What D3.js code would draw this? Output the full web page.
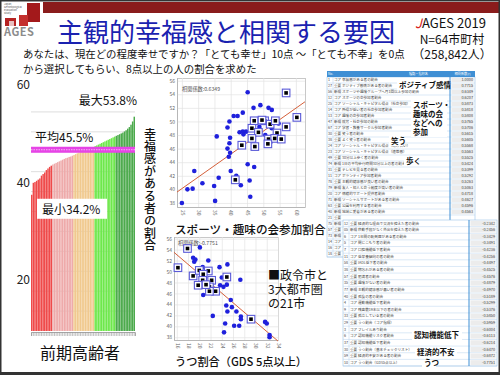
<!DOCTYPE html>
<html><head><meta charset="utf-8">
<script src="https://cdn.jsdelivr.net/npm/d3@7"></script>
<style>
body{margin:0;background:#fff}
text{font-family:"Noto Sans CJK JP","Noto Sans",sans-serif}
</style>
</head><body><script>
// ---- data ----
const title = "主観的幸福感と相関する要因";
const subtitle = ["あなたは、現在どの程度幸せですか？「とても幸せ」10点 ～「とても不幸」を0点",
                  "から選択してもらい、8点以上の人の割合を求めた"];
const sourceLines = ["N=64市町村", "（258,842人）"];

// 64 municipalities, sorted, % of happy people (前期高齢者)
const barValues = [
  34.2, 37.2, 37.4, 37.7, 38.0, 38.3, 39.0, 39.4, 39.8, 40.4, 40.8, 41.2, 41.5,
  41.8, 42.0, 42.2, 42.4, 42.6, 42.8, 43.0, 43.2, 43.4, 43.5, 43.7, 43.8, 44.0,
  44.2, 44.4, 44.6, 44.8, 45.0, 45.2, 45.4, 45.6, 45.8, 45.9, 46.0, 46.1, 46.2,
  46.4, 46.6, 46.8, 47.0, 47.2, 47.4, 47.6, 47.8, 48.0, 48.2, 48.4, 48.6, 48.8,
  49.0, 49.2, 49.4, 49.6, 49.8, 50.1, 50.4, 50.8, 51.2, 51.8, 52.6, 53.8];
const groupSizes = [13, 13, 13, 13, 12];
const groupColors = ["#ef4a4a", "#eeaaaa", "#f0c98e", "#6ee84c", "#4caa4c"];
const meanValue = 45.5, minValue = 34.2, maxValue = 53.8;
const barTickLabels = [20, 40, 60];
const barGrid = [5, 10, 15, 20, 25, 30, 35, 40, 45, 50, 55];

// scatter 1: sport / hobby participation vs happiness
const sportDots = [[25,38.0],[26.7,40.0],[28.3,40.1],[28.8,42.7],[31.3,40.9],[34.9,40.5],[35.2,38.3],
  [36.3,41.7],[35.7,47.8],[39.0,49.1],[39.6,50.0],[40.9,50.8],[42.1,50.8],[43.7,51.3],[45.2,54.3],
  [39.8,47.6],[39.6,46.8],[39.0,46.0],[39.8,45.4],[39.4,44.8],[40.0,42.7],[41.7,42.0],[42.7,48.4],
  [43.7,48.5],[44.7,48.5],[43.9,48.1],[45.2,43.7],[47.2,43.3],[45.8,41.3],[46.0,38.9],[43.1,40.6],
  [47.0,52.0],[49.1,52.4],[51.6,52.0],[52.6,51.7],[48.8,49.2],[50.6,48.0],[52.6,49.0],[54.7,49.7]];
const sportSquares = [[57.0,54.2],[60.3,50.6],[57.0,49.2],[47.2,50.1],[50.4,50.1],[52.1,49.6],
  [53.7,50.1],[46.5,49.0],[48.5,48.4],[54.2,48.3],[51.6,47.4],[46.5,47.5],[53.5,47.5],[55.5,47.4],
  [51.4,46.7],[43.4,46.5],[47.4,46.3],[41.4,41.4],[49.6,50.2]];
const sportFit = [[23.5, 39.6], [62.8, 52.9]];
const sportXTicks = [25, 30, 35, 40, 45, 50, 55, 60];
const sportYTicks = [38, 40, 42, 44, 46, 48, 50, 52, 54, 56];

// scatter 2: depression (GDS>=5) vs happiness
const depDots = [[20.1,54.4],[19.1,51.8],[18.9,52.5],[19.3,52.2],[20.6,50.8],[21.6,52.0],[23.6,50.8],
  [25.0,51.3],[27.3,48.5],[24.0,48.9],[24.9,47.6],[23.7,47.5],[24.3,47.2],[20.7,45.7],[25.6,44.8],
  [24.8,43.8],[25.8,43.5],[25.0,42.7],[26.6,42.7],[22.4,41.9],[27.4,41.8],[27.4,41.3],[24.6,40.5],
  [26.2,40.1],[27.1,40.1],[24.4,38.9],[31.7,40.8],[32.0,40.5],[32.5,38.4],[32.5,38.0]];
const depSquares = [[17.9,54.2],[16.2,50.7],[18.9,49.2],[20.0,50.2],[21.6,50.1],[20.7,49.5],
  [22.2,48.4],[20.6,48.4],[19.8,47.5],[21.8,47.2],[22.9,46.4],[21.8,46.4],[24.9,49.0],[29.2,41.3],
  [21.2,47.6]];
const depFit = [[15.5, 53.5], [34.0, 37.3]];
const depXTicks = [16, 18, 20, 22, 24, 26, 28, 30, 32, 34];
const depYTicks = [38, 40, 42, 44, 46, 48, 50, 52, 54, 56];

// correlation table (positive)
const posRows = [
  ["1","コア","幸福感がある者の割合"],["27","重要","ポジティブ感情がある者の割合"],
  ["56","新規","スポーツや趣味グループへ月1回以上参加の割合"],["12","コア","スポーツの会参加者割合"],
  ["25","コア","ソーシャル・キャピタル得点（社会参加）"],["14","コア","所得が低い者の社会参加者割合"],
  ["13","コア","趣味の会参加者割合"],["47","新規","就労・社会参加の割合"],
  ["67","コア","学習・教養サークル参加者割合"],["30","重要","笑う者の割合"],
  ["38","重要","よく笑う者の割合"],["24","コア","ソーシャル・キャピタル得点（助け合い）"],
  ["23","コア","ソーシャル・キャピタル得点（連帯感）"],["49","重要","30分以上歩く者の割合"],
  ["74","新規","1日の平均歩行時間30分以上の者の割合"],["31","重要","テレビを見る者の割合"],
  ["11","コア","ボランティア参加者割合"],["78","重要","主観的健康感が良い者の割合"],
  ["79","新規","友人・知人と会う頻度が高い者の割合"],["20","コア","情緒的サポート提供者割合"],
  ["71","新規","ソーシャルサポートがある者の割合"],["63","重要","公園を利用する者の割合"],
  ["40","新規","地域に愛着がある者の割合"],["21","重要","手段的サポート受領者割合"],
  ["75","新規","外出頻度が高い者の割合"],["57","重要","町内会参加者割合"],
  ["73","新規","買い物に行く者の割合"],["14","コア","収入のある仕事をしている者の割合"],
  ["16","コア","老人クラブ参加者割合"],["18","重要","特技や経験を他者に伝える活動"]];
const posVals = [1.0000,0.7715,0.6349,0.6207,0.5873,0.5818,0.5808,0.5765,0.5706,0.5615,0.5605,
  0.5568,0.5563,0.5525,0.5424,0.5399,0.5292,0.5263,0.5063,0.4718,0.4627,0.4596,0.4563,0.4521,
  0.4488,0.4452,0.4410,0.4385,0.4362,0.4340];

// correlation table (negative)
const negRows = [
  ["12","重要","経済的な理由で交流を控えた者の割合"],["05","新規","移動手段がなく外出を控えた者の割合"],
  ["6","コア","1年間の転倒歴がある者の割合"],["5","コア","閉じこもり者の割合"],
  ["7","コア","口腔機能低下者割合"],["11","コア","低栄養傾向の者の割合"],
  ["58","重要","IADL低下者の割合"],["38","重要","物忘れがある者の割合"],
  ["57","重要","肥満者の割合"],["35","重要","趣味がない者の割合"],
  ["77","新規","主観的健康感が悪い者の割合"],["40","重要","孤食の者の割合"],
  ["4","コア","運動機能低下者割合"],["9","コア","残歯数19本以下の者の割合"],
  ["33","重要","孤立している者の割合"],["29","重要","うつ割合（コア指標）"],
  ["3","コア","フレイルあり割合"],["6","コア","認知機能リスク者割合"],
  ["37","重要","認知機能低下者割合"],["30","重要","うつ割合（基本チェックリスト）"],
  ["59","重要","経済的不安がある者の割合"],["10","コア","うつ割合（GDS5点以上）"]];
const negVals = [-0.2342,-0.2456,-0.3429,-0.3491,-0.4236,-0.4256,-0.4497,-0.4525,-0.4576,-0.4879,
  -0.4970,-0.5189,-0.5299,-0.5376,-0.5850,-0.5959,-0.6004,-0.6113,-0.6214,-0.6470,-0.6872,-0.7751];

// ---- drawing ----
const svg = d3.select("body").append("svg").attr("width", 500).attr("height", 375);
svg.append("rect").attr("width", 500).attr("height", 375).attr("fill", "#fff");

// header band + logo
svg.append("rect").attr("x", 43).attr("y", 2).attr("width", 457).attr("height", 11).attr("fill", "#8a1c1c");
const logo = svg.append("g");
logo.append("rect").attr("x", 27).attr("y", 3).attr("width", 13).attr("height", 19).attr("fill", "#a3191b");
logo.append("rect").attr("x", 19).attr("y", 15).attr("width", 9).attr("height", 11).attr("fill", "#c4302e");
logo.append("rect").attr("x", 5).attr("y", 18).attr("width", 11).attr("height", 8).attr("fill", "#b52222");
logo.append("rect").attr("x", 9).attr("y", 21).attr("width", 5).attr("height", 5).attr("fill", "#e7c0c0");
logo.selectAll("text.jl").data(["Japan", "Gerontological", "Evaluation", "Study"]).join("text")
  .attr("x", 4).attr("y", (d, i) => 5 + i * 3).attr("font-size", 2.6).attr("fill", "#555").text(d => d);
logo.append("text").attr("x", 4).attr("y", 36).attr("font-size", 11).attr("font-weight", "bold")
  .attr("font-family", "Liberation Sans").attr("fill", "#8c8c8c").attr("letter-spacing", 0.5).text("AGES");

// title & subtitle
svg.append("text").attr("x", 57).attr("y", 41.5).attr("font-size", 26).attr("fill", "#1a22b0").text(title);
svg.selectAll("text.sub").data(subtitle).join("text").attr("class", "sub")
  .attr("x", 23).attr("y", (d, i) => 57.5 + i * 15).attr("font-size", 10.4).attr("fill", "#111").text(d => d);

const src = svg.append("text").attr("x", 415).attr("y", 27.5).attr("font-size", 13)
  .attr("font-family", "Liberation Sans").attr("fill", "#111");
src.append("tspan").attr("fill", "#d81e1e").attr("font-style", "italic").text("J");
src.append("tspan").text("AGES 2019");
svg.selectAll("text.src").data(sourceLines).join("text").attr("class", "src")
  .attr("x", 452).attr("y", (d, i) => 43.5 + i * 15).attr("text-anchor", "middle")
  .attr("font-size", 12).attr("fill", "#111").text(d => d);

// ---- sorted bar chart ----
const xBar = d3.scaleBand().domain(d3.range(barValues.length)).range([31, 135]).paddingInner(0.1);
const yBar = d3.scaleLinear().domain([0, 60]).range([331, 92]);
const yBarLabel = d3.scaleLinear().domain([20, 60]).range([280, 85]);
const groupOf = [];
groupSizes.forEach((n, g) => { for (let k = 0; k < n; k++) groupOf.push(g); });

const bars = svg.append("g");
bars.selectAll("line.grid").data(barGrid).join("line")
  .attr("x1", 31).attr("x2", 135).attr("y1", d => yBar(d)).attr("y2", d => yBar(d))
  .attr("stroke", "#d6d6d6").attr("stroke-width", 0.8);
bars.selectAll("rect.bar").data(barValues).join("rect")
  .attr("x", (d, i) => xBar(i)).attr("width", xBar.bandwidth())
  .attr("y", d => yBar(d)).attr("height", d => yBar(0) - yBar(d))
  .attr("fill", (d, i) => groupColors[groupOf[i]]);
const bAxis = bars.append("g").attr("transform", "translate(0,332)")
  .call(d3.axisBottom(xBar).tickSize(4).tickFormat(""));
bAxis.selectAll("line").attr("stroke", "#999").attr("stroke-width", 0.6);
bAxis.select(".domain").attr("stroke", "#aaa");

bars.append("rect").attr("x", 31).attr("width", 104).attr("y", yBar(meanValue) - 3).attr("height", 6)
  .attr("fill", "#e644e6");
bars.append("line").attr("x1", 31).attr("x2", 135).attr("y1", yBar(meanValue)).attr("y2", yBar(meanValue))
  .attr("stroke", "#f6b4f6").attr("stroke-width", 1.2).attr("stroke-dasharray", "1.5,1");

bars.selectAll("text.yl").data(barTickLabels).join("text")
  .attr("x", 30).attr("y", d => yBarLabel(d) + 4).attr("text-anchor", "end")
  .attr("font-size", 12).attr("fill", "#222").text(d => d);

bars.append("text").attr("x", 137).attr("y", yBar(maxValue) - 12).attr("text-anchor", "end")
  .attr("font-size", 12).attr("fill", "#111").text(`最大${maxValue}%`);
bars.append("text").attr("x", 35).attr("y", yBar(meanValue) - 8)
  .attr("font-size", 12).attr("fill", "#111").text(`平均${meanValue}%`);
bars.append("rect").attr("x", 37).attr("y", yBar(minValue) + 4).attr("width", 70).attr("height", 20).attr("fill", "#fff");
bars.append("text").attr("x", 42).attr("y", yBar(minValue) + 19)
  .attr("font-size", 12).attr("fill", "#111").text(`最小${minValue}%`);
bars.append("text").attr("x", 40).attr("y", 359).attr("font-size", 16).attr("fill", "#111").text("前期高齢者");

// vertical y title (one vertical text run)
svg.append("text").attr("x", 150).attr("y", 128)
  .style("writing-mode", "vertical-rl").style("glyph-orientation-vertical", "0")
  .attr("font-size", 12).attr("letter-spacing", 0.4).attr("font-weight", 500).attr("fill", "#111")
  .text("幸福感がある者の割合");

// ---- scatter helper ----
function scatter(o) {
  const g = svg.append("g");
  const [x0, x1] = o.x.range(), [y0, y1] = o.y.range();
  const ya = g.append("g").attr("transform", `translate(${x0},0)`)
    .call(d3.axisLeft(o.y).tickValues(o.yTicks).tickSize(-(x1 - x0)).tickPadding(2));
  const xa = g.append("g").attr("transform", `translate(0,${y0})`)
    .call(d3.axisBottom(o.x).tickValues(o.xTicks).tickSize(-(y0 - y1)).tickPadding(2));
  [ya, xa].forEach(a => {
    a.selectAll("line").attr("stroke", "#e3e3e3").attr("stroke-width", 0.7);
    a.select(".domain").attr("stroke", "#b0b0b0").attr("stroke-width", 0.7);
    a.selectAll("text").attr("font-size", 5).attr("fill", "#666").attr("font-family", "Liberation Sans");
  });
  xa.selectAll("text").attr("transform", "rotate(90)").attr("text-anchor", "start")
    .attr("x", 3).attr("y", 0).attr("dy", "0.35em");
  g.append("text").attr("x", o.rPos[0]).attr("y", o.rPos[1]).attr("font-size", 5.2)
    .attr("fill", "#555").text(o.rText);
  g.append("line").attr("x1", o.x(o.fit[0][0])).attr("y1", o.y(o.fit[0][1]))
    .attr("x2", o.x(o.fit[1][0])).attr("y2", o.y(o.fit[1][1]))
    .attr("stroke", "#d5603a").attr("stroke-width", 1);
  g.selectAll("circle").data(o.dots).join("circle")
    .attr("cx", d => o.x(d[0])).attr("cy", d => o.y(d[1])).attr("r", 2.3).attr("fill", "#1f20dc");
  const sq = g.selectAll("g.sq").data(o.squares).join("g")
    .attr("transform", d => `translate(${o.x(d[0])},${o.y(d[1])})`);
  sq.append("rect").attr("x", -3.8).attr("y", -3.8).attr("width", 7.6).attr("height", 7.6)
    .attr("fill", "#fff").attr("stroke", "#5a5ad8").attr("stroke-width", 1.1);
  sq.append("rect").attr("x", -1.8).attr("y", -1.8).attr("width", 3.6).attr("height", 3.6).attr("fill", "#000");
}

scatter({
  x: d3.scaleLinear().domain([23.5, 62.8]).range([177, 305]),
  y: d3.scaleLinear().domain([37.4, 56.4]).range([207, 78]),
  xTicks: sportXTicks, yTicks: sportYTicks, dots: sportDots, squares: sportSquares, fit: sportFit,
  rText: "相関係数:0.6349", rPos: [182, 91]
});
scatter({
  x: d3.scaleLinear().domain([15.5, 34]).range([174, 278]),
  y: d3.scaleLinear().domain([37.5, 56.3]).range([340, 237]),
  xTicks: depXTicks, yTicks: depYTicks, dots: depDots, squares: depSquares, fit: depFit,
  rText: "相関係数:-0.7751", rPos: [178, 245]
});

svg.append("text").attr("x", 175).attr("y", 234).attr("font-size", 11.6).attr("font-weight", 500)
  .attr("fill", "#111").text("スポーツ・趣味の会参加割合");
svg.append("text").attr("x", 175).attr("y", 366).attr("font-size", 11.2).attr("font-weight", 500)
  .attr("fill", "#111").text("うつ割合（GDS 5点以上）");
svg.selectAll("text.leg").data(["■政令市と", "3大都市圏", "の21市"]).join("text").attr("class", "leg")
  .attr("x", 268).attr("y", (d, i) => 280 + i * 14).attr("font-size", 12).attr("fill", "#111").text(d => d);

// ---- correlation tables ----
// rows whose top lies below `hideFrom` sit under the other table: only No. and type show there
function table(rows, vals, x0, x1, xv, y, header, hideFrom) {
  const g = svg.append("g");
  const [ya, yb] = y.range();
  g.append("rect").attr("x", x0).attr("y", ya).attr("width", x1 - x0).attr("height", yb - ya)
    .attr("fill", "#fff").attr("stroke", "#9cc2e6").attr("stroke-width", 0.6);
  if (header) {
    g.append("rect").attr("x", x0).attr("y", ya - 6).attr("width", x1 - x0).attr("height", 6).attr("fill", "#3f8fd4");
    [["No.", x0 + 1, "start"], ["種類・指標名", (x0 + xv) / 2 + 30, "middle"], ["相関係数(r)", (xv + x1) / 2, "middle"]]
      .forEach(h => g.append("text").attr("x", h[1]).attr("y", ya - 1.8).attr("text-anchor", h[2])
        .attr("font-size", 3.2).attr("fill", "#fff").text(h[0]));
  }
  const r = g.selectAll("g.row").data(rows).join("g").attr("transform", (d, i) => `translate(0,${y(i)})`);
  const h = y.bandwidth();
  const shown = r.filter((d, i) => y(i) + h <= hideFrom);
  r.append("line").attr("x1", x0).attr("x2", x1).attr("y1", h).attr("y2", h)
    .attr("stroke", "#b7d3ef").attr("stroke-width", 0.5);
  shown.append("rect").attr("x", xv + 1.5).attr("y", 0.8).attr("width", x1 - xv - 3).attr("height", h - 1.6).attr("fill", "#ececec");
  r.append("text").attr("x", x0 + 1).attr("y", h * 0.68).attr("font-size", 3.6).attr("fill", "#444").text(d => d[0]);
  r.append("text").attr("x", x0 + 7).attr("y", h * 0.68).attr("font-size", 3.6).attr("fill", "#444").text(d => d[1]);
  shown.append("text").attr("x", x0 + 15).attr("y", h * 0.68).attr("font-size", 3.6).attr("fill", "#444").text(d => d[2]);
  shown.append("text").attr("x", x1 - 2).attr("y", h * 0.68).attr("text-anchor", "end").attr("font-size", 3.8)
    .attr("fill", "#444").text(d => vals[rows.indexOf(d)].toFixed(4));
  g.append("line").attr("x1", xv).attr("x2", xv).attr("y1", ya).attr("y2", yb)
    .attr("stroke", "#3f8fd4").attr("stroke-width", 1);
  g.append("line").attr("x1", x0 + 6).attr("x2", x0 + 6).attr("y1", ya).attr("y2", yb)
    .attr("stroke", "#b7d3ef").attr("stroke-width", 0.5);
}
table(posRows, posVals, 327, 475, 450, d3.scaleBand().domain(d3.range(posRows.length)).range([77, 257]), true, 220);
table(negRows, negVals, 343, 497, 469, d3.scaleBand().domain(d3.range(negRows.length)).range([220, 366]), false, 400);

// callouts over the tables (one text element per callout)
function callout(lines, x, y, w, lh) {
  svg.append("rect").attr("x", x - 2).attr("y", y - lh + 1).attr("width", w).attr("height", lines.length * lh + 1)
    .attr("fill", "#fff");
  svg.append("text").attr("x", x).attr("y", y).attr("font-size", 7.5).attr("font-weight", "bold").attr("fill", "#111")
    .selectAll("tspan").data(lines).join("tspan")
    .attr("x", x).attr("dy", (d, i) => i ? lh : 0).text(d => d);
}
callout(["ポジティブ感情"], 399, 88, 51, 9);
callout(["スポーツ・", "趣味の会", "などへの", "参加"], 413, 108, 36, 9);
callout(["笑う"], 391, 144, 14, 9);
callout(["歩く"], 406, 164, 14, 9);
callout(["認知機能低下"], 414, 338, 50, 9);
callout(["経済的不安"], 417, 355, 42, 9);
callout(["うつ"], 424, 366, 14, 7);

// slide frame
svg.append("rect").attr("x", 0.75).attr("y", 0.75).attr("width", 498.5).attr("height", 373.5)
  .attr("fill", "none").attr("stroke", "#333").attr("stroke-width", 1.5);
svg.append("line").attr("x1", 0).attr("x2", 500).attr("y1", 373.5).attr("y2", 373.5)
  .attr("stroke", "#333").attr("stroke-width", 3);
</script></body></html>
